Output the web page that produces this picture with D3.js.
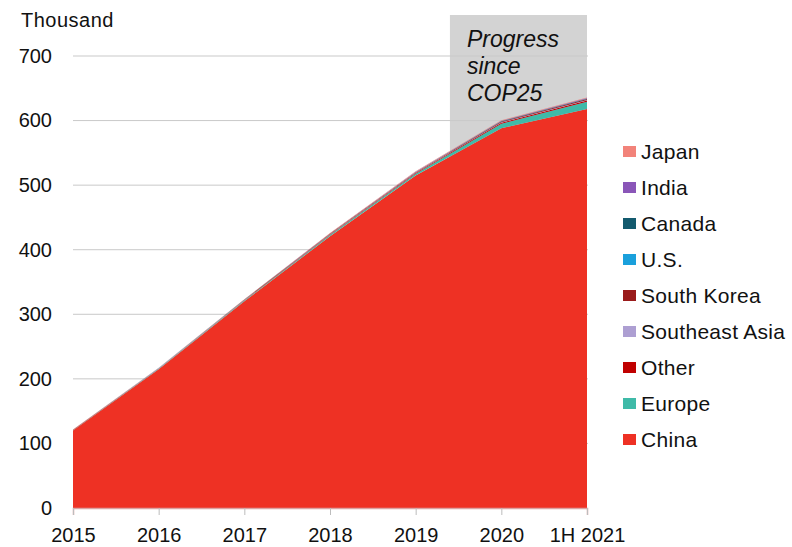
<!DOCTYPE html>
<html>
<head>
<meta charset="utf-8">
<script src="https://cdn.jsdelivr.net/npm/d3@7"></script>
<style>
  html, body { margin: 0; padding: 0; background: #ffffff; }
  svg { display: block; font-family: "Liberation Sans", Arial, sans-serif; }
</style>
</head>
<body>
<svg id="chart" width="792" height="547"></svg>
<script>
// ---- Data (thousand) ----
const categories = ["2015", "2016", "2017", "2018", "2019", "2020", "1H 2021"];
const seriesNames = ["China", "Europe", "Other", "Southeast Asia", "South Korea", "U.S.", "Canada", "India", "Japan"];
const china         = [120, 215, 320, 421, 515, 588, 618];
const europe        = [0.5, 0.8, 1.2, 1.8, 2.5, 7, 11];
const other         = [0.3, 0.4, 0.6, 0.8, 1.2, 1.8, 2.2];
const southeastAsia = [0.1, 0.1, 0.2, 0.3, 0.4, 0.5, 0.6];
const southKorea    = [0.2, 0.3, 0.5, 0.7, 0.9, 1.2, 1.5];
const us            = [0.1, 0.1, 0.2, 0.2, 0.3, 0.4, 0.5];
const canada        = [0.05, 0.1, 0.1, 0.15, 0.2, 0.3, 0.4];
const india         = [0.1, 0.1, 0.2, 0.3, 0.4, 0.5, 0.7];
const japan         = [0.2, 0.3, 0.4, 0.5, 0.6, 0.8, 1.0];
const yTicks = [0, 100, 200, 300, 400, 500, 600, 700];
const highlightFrom = "2019";   // shaded "Progress since COP25" band starts after this category
const highlightLabel = ["Progress", "since", "COP25"];
const unitLabel = "Thousand";

const seriesValues = {
  "China": china, "Europe": europe, "Other": other, "Southeast Asia": southeastAsia,
  "South Korea": southKorea, "U.S.": us, "Canada": canada, "India": india, "Japan": japan
};
const colors = {
  "China": "#ee3124", "Europe": "#3fbaa8", "Other": "#c00000", "Southeast Asia": "#ad9fd2",
  "South Korea": "#9a1b1b", "U.S.": "#1aa0dc", "Canada": "#135a6e", "India": "#8a56b8", "Japan": "#f2837a"
};

// ---- Build table ----
const table = categories.map((c, i) => {
  const row = { cat: c };
  seriesNames.forEach(s => row[s] = seriesValues[s][i]);
  return row;
});

const svg = d3.select("#chart");
const x = d3.scalePoint().domain(categories).range([73, 587]);
const y = d3.scaleLinear().domain([0, 700]).range([508, 56]);

// shaded band
const bandX0 = x(highlightFrom) + (x(categories[5]) - x(highlightFrom)) * 0.4;
svg.append("rect")
  .attr("x", bandX0).attr("y", 15)
  .attr("width", x(categories[categories.length - 1]) - bandX0)
  .attr("height", y(0) - 15)
  .attr("fill", "#d3d3d3");

// gridlines
svg.append("g").selectAll("line").data(yTicks.filter(t => t > 0)).join("line")
  .attr("x1", 73).attr("x2", 588)
  .attr("y1", d => y(d)).attr("y2", d => y(d))
  .attr("stroke", "#c9c9c9").attr("stroke-width", 1);

// stacked areas
const stack = d3.stack().keys(seriesNames);
const layers = stack(table);
const area = d3.area()
  .x(d => x(d.data.cat))
  .y0(d => y(d[0]))
  .y1(d => y(d[1]));
svg.append("g").selectAll("path").data(layers).join("path")
  .attr("d", area)
  .attr("fill", d => colors[d.key]);

// band label
const lbl = svg.append("text")
  .attr("font-style", "italic").attr("font-size", 23).attr("fill", "#111");
highlightLabel.forEach((t, i) => {
  lbl.append("tspan").attr("x", bandX0 + 17).attr("y", 47 + i * 27).text(t);
});

// x axis
const xAxis = d3.axisBottom(x).tickSize(7).tickPadding(13);
const gx = svg.append("g").attr("transform", `translate(0,${y(0)})`).call(xAxis);
gx.select(".domain").attr("stroke", "#dba3a3").attr("stroke-width", 1.5);
gx.selectAll(".tick line").attr("stroke", "#bdbdbd");
gx.selectAll(".tick text").attr("font-size", 20).attr("fill", "#111")
  .attr("font-family", "Liberation Sans, Arial, sans-serif");

// y axis
const yAxis = d3.axisLeft(y).tickValues(yTicks).tickSize(0).tickPadding(21);
const gy = svg.append("g").attr("transform", `translate(73,0)`).call(yAxis);
gy.select(".domain").remove();
gy.selectAll(".tick text").attr("font-size", 20).attr("fill", "#111")
  .attr("font-family", "Liberation Sans, Arial, sans-serif");

// unit label
svg.append("text").attr("x", 21).attr("y", 27).attr("font-size", 20)
  .attr("letter-spacing", 0.5).attr("fill", "#111").text(unitLabel);

// legend (reverse order)
const legendNames = seriesNames.slice().reverse();
const lg = svg.append("g").selectAll("g").data(legendNames).join("g")
  .attr("transform", (d, i) => `translate(623,${152 + i * 36})`);
lg.append("rect").attr("x", 0).attr("y", -6).attr("width", 13).attr("height", 11)
  .attr("fill", d => colors[d]);
lg.append("text").attr("x", 18).attr("y", 7).attr("font-size", 21)
  .attr("letter-spacing", 0.3).attr("fill", "#111").text(d => d);
</script>
</body>
</html>
